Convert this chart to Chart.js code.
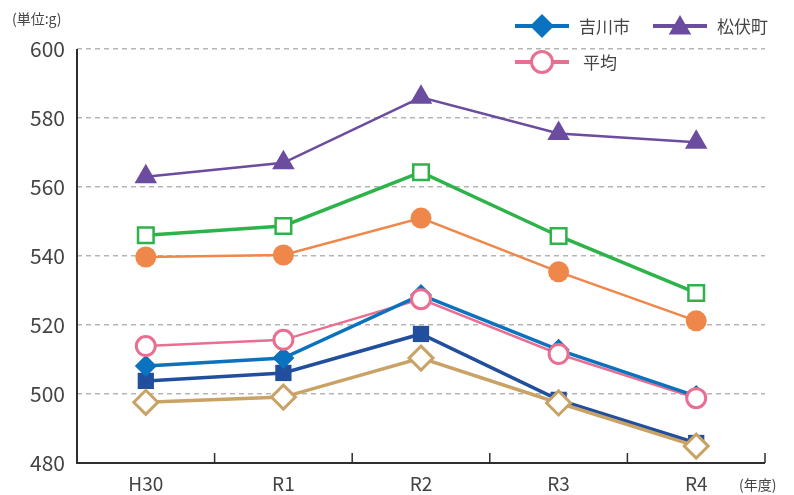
<!DOCTYPE html>
<html>
<head>
<meta charset="utf-8">
<script src="https://cdn.jsdelivr.net/npm/chart.js@4/dist/chart.umd.min.js"></script>
<style>
html,body{margin:0;padding:0;background:#fff;}
#wrap{position:relative;width:794px;height:495px;}
</style>
</head>
<body>
<div id="wrap"><canvas id="c" width="794" height="495"></canvas></div>
<script>
const categories = ['H30', 'R1', 'R2', 'R3', 'R4'];
const matsubushi = [563, 567, 586, 575.5, 573];
const greenSeries = [546, 548.7, 564.3, 545.8, 529.3];
const orangeSeries = [539.7, 540.3, 551, 535.4, 521.2];
const average = [513.9, 515.7, 527.5, 511.6, 498.8];
const yoshikawa = [508.1, 510.4, 528.7, 512.8, 499.4];
const navySeries = [503.8, 506.1, 517.4, 498.3, 485.8];
const tanSeries = [497.6, 499.1, 510.4, 497.4, 484.9];
const yTicks = [480, 500, 520, 540, 560, 580, 600];

const FONT = '"Noto Sans CJK JP", "Noto Sans", sans-serif';
const C = {
  purple: '#6b4c9e', green: '#2eb34a', orange: '#f0874a', pink: '#e96f92',
  blue: '#0b72bd', navy: '#214f9d', tan: '#c9a266'
};

// first dataset is drawn on top
const datasets = [
  {label: '平均', data: average, showLine: false, pointStyle: 'circle', pointRadius: 9.5,
   pointBorderWidth: 3, borderColor: C.pink, backgroundColor: '#fff'},
  {label: '吉川市', data: yoshikawa, borderColor: C.blue, backgroundColor: C.blue, borderWidth: 3.5,
   pointStyle: 'rectRot', pointRadius: 11, pointBorderWidth: 0},
  {label: '平均(線)', data: average, borderColor: C.pink, borderWidth: 2.5, pointRadius: 0},
  {label: '系列6', data: tanSeries, borderColor: C.tan, backgroundColor: '#fff', borderWidth: 3.5,
   pointStyle: 'rectRot', pointRadius: 12, pointBorderWidth: 3},
  {label: '系列5', data: navySeries, borderColor: C.navy, backgroundColor: C.navy, borderWidth: 3.5,
   pointStyle: 'rect', pointRadius: 11.5, pointBorderWidth: 0},
  {label: '系列4', data: orangeSeries, borderColor: C.orange, backgroundColor: C.orange, borderWidth: 2.5,
   pointStyle: 'circle', pointRadius: 10.5, pointBorderWidth: 0},
  {label: '系列3', data: greenSeries, borderColor: C.green, backgroundColor: '#fff', borderWidth: 3.5,
   pointStyle: 'rect', pointRadius: 11, pointBorderWidth: 2.5},
  {label: '松伏町', data: matsubushi, borderColor: C.purple, backgroundColor: C.purple, borderWidth: 2.5,
   pointStyle: 'triangle', pointRadius: 13, pointBorderWidth: 0}
].map(d => Object.assign({tension: 0, fill: false, pointBackgroundColor: d.backgroundColor,
  pointBorderColor: d.borderColor}, d));

const axisLines = {
  id: 'axisLines',
  beforeDatasetsDraw(chart) {
    const ctx = chart.ctx;
    const x = chart.scales.x, ca = chart.chartArea;
    const L = Math.round(ca.left), B = Math.round(ca.bottom);
    ctx.save();
    ctx.strokeStyle = '#2e2e2e'; ctx.lineWidth = 2; ctx.setLineDash([]);
    // y axis line
    ctx.beginPath(); ctx.moveTo(L, ca.top); ctx.lineTo(L, B); ctx.stroke();
    // x axis line
    ctx.beginPath(); ctx.moveTo(L - 1, B); ctx.lineTo(ca.right, B); ctx.stroke();
    // upward tick marks at category boundaries
    ctx.lineWidth = 1.5;
    for (let i = 0; i < categories.length; i++) {
      const px = i < categories.length - 1
        ? (x.getPixelForValue(i) + x.getPixelForValue(i + 1)) / 2 : ca.right;
      ctx.beginPath(); ctx.moveTo(px, B); ctx.lineTo(px, B - 10); ctx.stroke();
    }
    ctx.restore();
  },
  afterDraw(chart) {
    const ctx = chart.ctx;
    ctx.save();
    ctx.fillStyle = '#444';
    ctx.font = '14px ' + FONT;
    ctx.textBaseline = 'middle'; ctx.textAlign = 'left';
    ctx.fillText('(単位:g)', 12, 19);
    ctx.fillText('(年度)', 739, 485);
    // legend
    const items = [
      {t: '吉川市', c: C.blue, s: 'rectRot', r: 12, bw: 0, bg: C.blue, x: 515, y: 26},
      {t: '松伏町', c: C.purple, s: 'triangle', r: 13, bw: 0, bg: C.purple, x: 653, y: 26},
      {t: '平均', c: C.pink, s: 'circle', r: 10.5, bw: 3, bg: '#fff', x: 515, y: 62}
    ];
    ctx.font = '17px ' + FONT;
    items.forEach(it => {
      ctx.strokeStyle = it.c; ctx.lineWidth = 4;
      ctx.beginPath(); ctx.moveTo(it.x, it.y); ctx.lineTo(it.x + 54, it.y); ctx.stroke();
      ctx.fillStyle = it.bg; ctx.strokeStyle = it.c; ctx.lineWidth = it.bw;
      Chart.helpers.drawPoint(ctx, {pointStyle: it.s, radius: it.r, borderWidth: it.bw, rotation: 0},
        it.x + 27, it.y + (it.s === 'triangle' ? 2 : 0));
      ctx.fillStyle = '#444';
      ctx.fillText(it.t, it.x + (it.s === 'circle' ? 68 : 64), it.y + 1);
    });
    ctx.restore();
  }
};

new Chart(document.getElementById('c'), {
  type: 'line',
  data: {labels: categories, datasets},
  plugins: [axisLines],
  options: {
    responsive: false,
    animation: false,
    events: [],
    clip: false,
    layout: {padding: {top: 49, right: 29, left: 0, bottom: 0}},
    plugins: {legend: {display: false}, tooltip: {enabled: false}},
    scales: {
      x: {
        offset: true,
        grid: {display: false, drawTicks: false},
        border: {display: false},
        ticks: {color: '#444', font: {family: FONT, size: 19}, padding: 9},
        afterFit(s) { s.height = 32; }
      },
      y: {
        min: yTicks[0], max: yTicks[yTicks.length - 1],
        afterBuildTicks(s) { s.ticks = yTicks.map(v => ({value: v})); },
        grid: {
          drawTicks: false,
          color: c => c.tick && c.tick.value === yTicks[0] ? 'rgba(0,0,0,0)' : '#b5b5b5',
          lineWidth: 1.5
        },
        border: {display: false, dash: [5, 4]},
        ticks: {color: '#444', font: {family: FONT, size: 21}, padding: 12},
        afterFit(s) { s.width = 77; }
      }
    }
  }
});
</script>
</body>
</html>
